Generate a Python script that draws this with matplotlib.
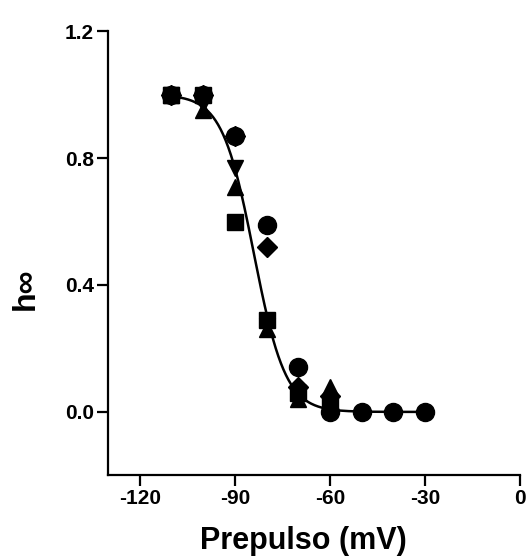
import numpy as np
import matplotlib
matplotlib.use('Agg')
import matplotlib.pyplot as plt

plt.rcParams['font.family'] = ['Liberation Sans', 'DejaVu Sans']
plt.rcParams['font.weight'] = 'bold'

# prepulse potentials (mV)
volts = [-110, -100, -90, -80, -70, -60, -50, -40, -30]

# h-infinity per cell / marker
h_circle = [1.0, 1.0, 0.87, 0.59, 0.14, 0.0, 0.0, 0.0, 0.0]
h_square = [1.0, 1.0, 0.60, 0.29, 0.06, 0.02]
h_tri_up = [1.0, 0.95, 0.71, 0.26, 0.04, 0.08]
h_tri_dn = [1.0, 0.97, 0.77, 0.27, 0.06, 0.03]
h_diamond = [1.0, 1.0, 0.87, 0.52, 0.08, 0.05]

# Boltzmann fit
v_half = -84.0
slope = 5.0

xticks = [-120, -90, -60, -30, 0]
yticks = [0.0, 0.4, 0.8, 1.2]

fig = plt.figure(figsize=(5.3, 5.56), dpi=100)
ax = fig.add_axes([0.204, 0.145, 0.777, 0.799])

vfit = np.linspace(volts[0], volts[-1], 300)
hfit = 1.0 / (1.0 + np.exp((vfit - v_half) / slope))
ax.plot(vfit, hfit, color='black', lw=1.8, zorder=2)

ax.plot(volts[:len(h_square)], h_square, 's', color='black', ms=11, zorder=3)
ax.plot(volts[:len(h_tri_up)], h_tri_up, '^', color='black', ms=12, zorder=3)
ax.plot(volts[:len(h_tri_dn)], h_tri_dn, 'v', color='black', ms=12, zorder=3)
ax.plot(volts[:len(h_diamond)], h_diamond, 'D', color='black', ms=10, zorder=3)
ax.plot(volts, h_circle, 'o', color='black', ms=13, zorder=3)

ax.set_xlim(-130, 0)
ax.set_ylim(-0.2, 1.2)
ax.set_xticks(xticks)
ax.set_yticks(yticks)
ax.set_xticklabels([str(t) for t in xticks])
ax.set_yticklabels(['%.1f' % t for t in yticks])

for s in ['top', 'right']:
    ax.spines[s].set_visible(False)
for s in ['left', 'bottom']:
    ax.spines[s].set_linewidth(1.6)

ax.tick_params(direction='out', length=8, width=1.6, labelsize=15, pad=2)
for lab in ax.get_xticklabels() + ax.get_yticklabels():
    lab.set_fontweight('bold')

ax.set_xlabel('Prepulso (mV)', fontsize=22, fontweight='bold')
ax.set_ylabel('h\u221e', fontsize=23, fontweight='bold')
ax.xaxis.set_label_coords(0.473, -0.113)
ax.yaxis.set_label_coords(-0.163, 0.42)

plt.savefig('out.png', dpi=100)
